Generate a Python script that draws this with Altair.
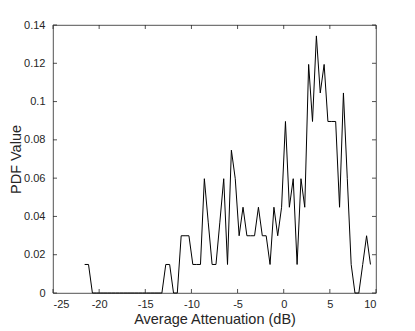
import altair as alt
import pandas as pd

# Bin centres (dB)
atten_db = [
    -21.57, -21.15, -20.73, -20.31, -19.90, -19.48, -19.06, -18.64, -18.22, -17.80,
    -17.39, -16.97, -16.55, -16.13, -15.71, -15.29, -14.87, -14.46, -14.04, -13.62,
    -13.20, -12.78, -12.36, -11.94, -11.53, -11.11, -10.69, -10.27, -9.85, -9.43,
    -9.02, -8.60, -8.18, -7.76, -7.34, -6.92, -6.50, -6.09, -5.67, -5.25,
    -4.83, -4.41, -3.99, -3.58, -3.16, -2.74, -2.32, -1.90, -1.48, -1.06,
    -0.65, -0.23, 0.19, 0.61, 1.03, 1.45, 1.87, 2.28, 2.70, 3.12,
    3.54, 3.96, 4.38, 4.79, 5.21, 5.63, 6.05, 6.47, 6.89, 7.31,
    7.72, 8.14, 8.56, 8.98, 9.40,
]

# PDF values
pdf_value = [
    0.0149, 0.0149, 0, 0, 0, 0, 0, 0, 0, 0,
    0, 0, 0, 0, 0, 0, 0, 0, 0, 0,
    0, 0.0149, 0.0149, 0, 0, 0.0299, 0.0299, 0.0299, 0.0149, 0.0149,
    0.0149, 0.0597, 0.037, 0.0149, 0.0149, 0.037, 0.0597, 0.0149, 0.0746, 0.0597,
    0.0299, 0.0448, 0.0299, 0.0299, 0.0299, 0.0448, 0.0299, 0.0299, 0.0149, 0.0448,
    0.0299, 0.0448, 0.0896, 0.0448, 0.0597, 0.0149, 0.0597, 0.0448, 0.1194, 0.0896,
    0.1343, 0.1045, 0.1194, 0.0896, 0.0896, 0.0896, 0.0448, 0.1045, 0.0597, 0.0149,
    0, 0, 0.0149, 0.0299, 0.0149,
]

x_ticks = [-25, -20, -15, -10, -5, 0, 5, 10]
y_ticks = [0, 0.02, 0.04, 0.06, 0.08, 0.1, 0.12, 0.14]

W, H = 323, 268
TICK = 4
AX = "#262626"
FONT = "Liberation Sans"

df = pd.DataFrame({"x": atten_db, "y": pdf_value})
xt = pd.DataFrame({"t": x_ticks})
yt = pd.DataFrame({"t": y_ticks})

xscale = alt.Scale(domain=[-25, 10], nice=False, zero=False)
yscale = alt.Scale(domain=[0, 0.14], nice=False, zero=False)

xaxis = alt.Axis(title="Average Attenuation (dB)", values=x_ticks,
                 ticks=False, tickSize=0, domain=False, grid=False,
                 labelPadding=5, titlePadding=3,
                 labelExpr="'' + datum.value")
yaxis = alt.Axis(title="PDF Value", values=y_ticks, format="~g",
                 ticks=False, tickSize=0, domain=False, grid=False,
                 labelPadding=8, titlePadding=0)

line = alt.Chart(df).mark_line(color="black", strokeWidth=1).encode(
    x=alt.X("x:Q", scale=xscale, axis=xaxis),
    y=alt.Y("y:Q", scale=yscale, axis=yaxis),
)

xt_bottom = alt.Chart(xt).mark_rule(color=AX, strokeWidth=0.8).encode(
    x=alt.X("t:Q", scale=xscale, axis=xaxis),
    y=alt.value(H), y2=alt.value(H - TICK))
xt_top = alt.Chart(xt).mark_rule(color=AX, strokeWidth=0.8).encode(
    x=alt.X("t:Q", scale=xscale, axis=xaxis),
    y=alt.value(0), y2=alt.value(TICK))
yt_left = alt.Chart(yt).mark_rule(color=AX, strokeWidth=0.8).encode(
    y=alt.Y("t:Q", scale=yscale, axis=yaxis),
    x=alt.value(0), x2=alt.value(TICK))
yt_right = alt.Chart(yt).mark_rule(color=AX, strokeWidth=0.8).encode(
    y=alt.Y("t:Q", scale=yscale, axis=yaxis),
    x=alt.value(W - TICK), x2=alt.value(W))

chart = alt.layer(line, xt_bottom, xt_top, yt_left, yt_right).properties(
    width=W, height=H,
    autosize=alt.AutoSizeParams(type="none"),
    padding={"left": 45, "top": 17, "right": 20, "bottom": 35},
).configure_view(
    stroke=AX, strokeWidth=0.8
).configure_axis(
    labelFont=FONT, titleFont=FONT, labelFontSize=11, titleFontSize=14.5,
    labelColor=AX, titleColor=AX, titleFontWeight="normal",
)

chart.save("out.html", embed_options={"renderer": "svg", "actions": False})
